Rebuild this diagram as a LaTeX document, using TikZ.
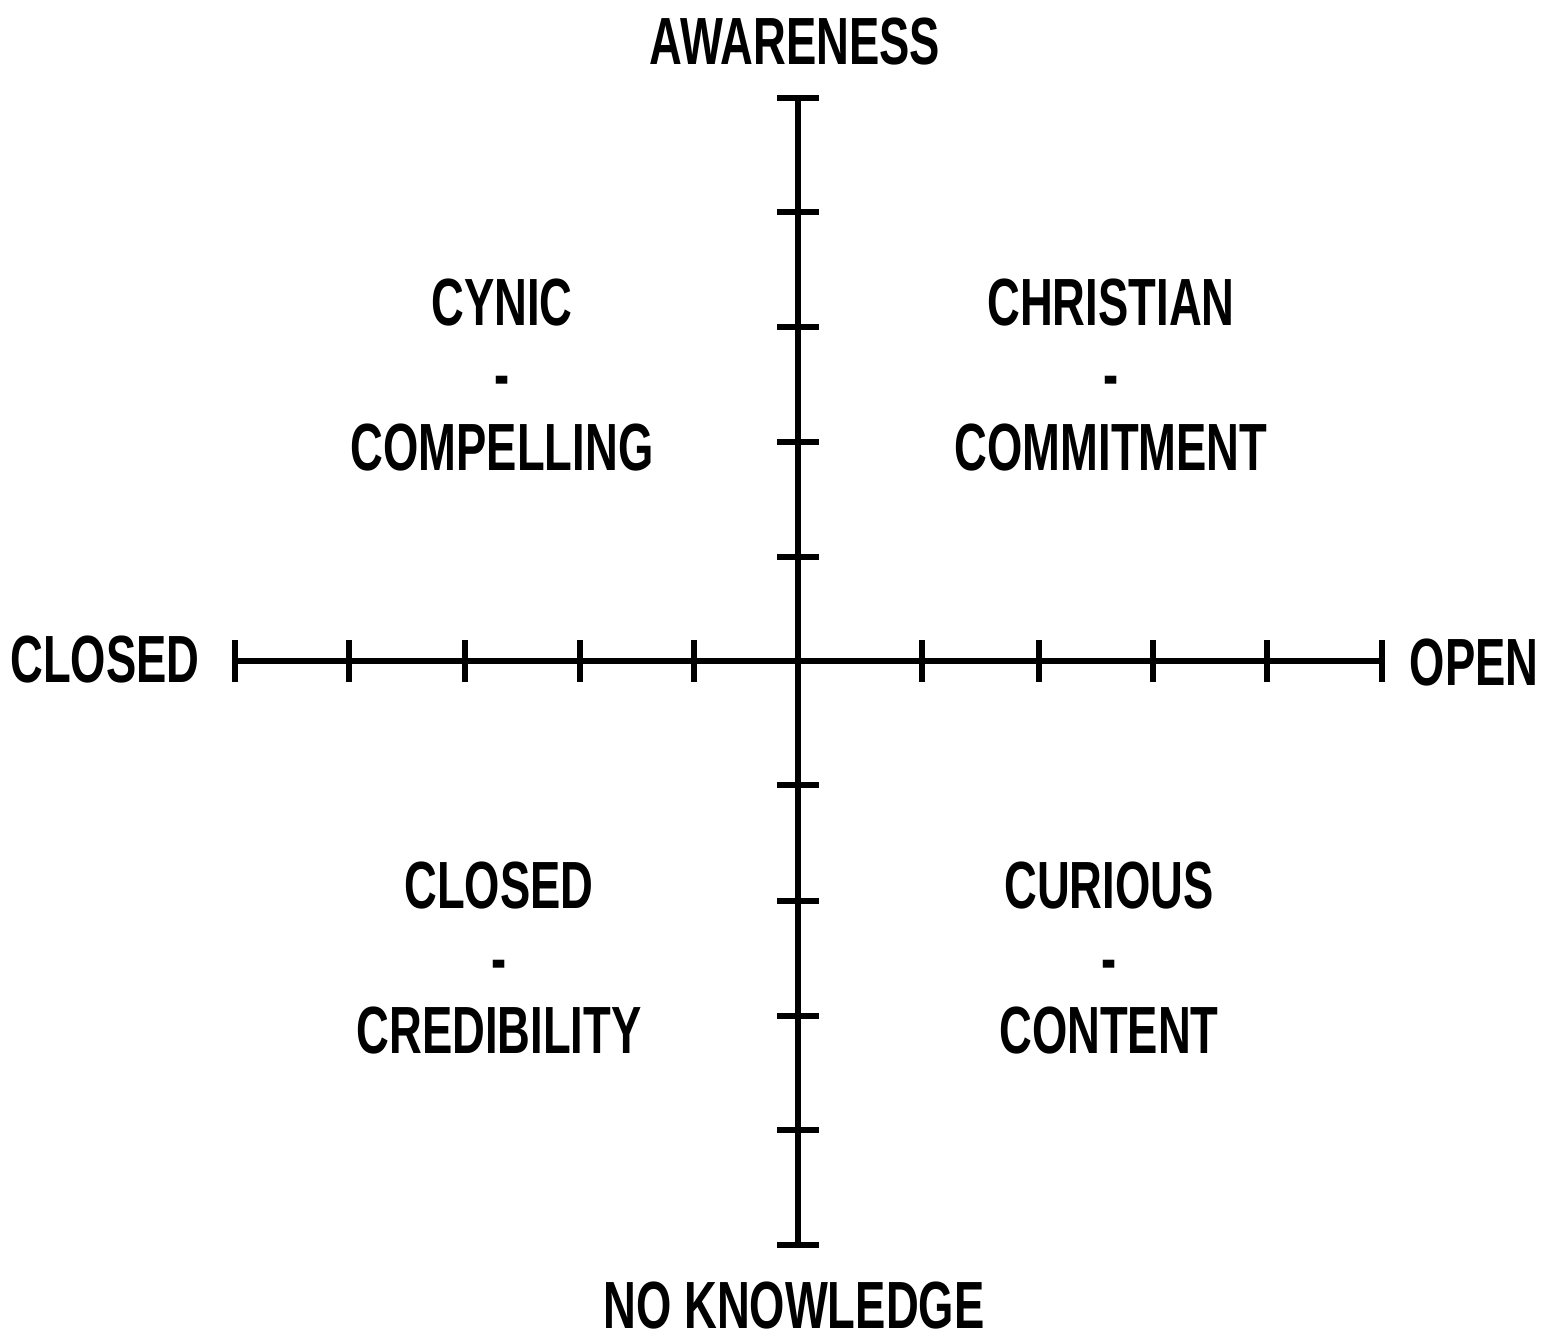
\documentclass[tikz,border=0pt]{standalone}
\usepackage{fontspec}
\newfontfamily\condfont[FakeStretch=0.68]{Liberation Sans}

\begin{document}
\begin{tikzpicture}[x=0.02cm, y=-0.02cm,
		axis/.style={line width=3.9pt},
		tick/.style={line width=3.7pt},
		word/.style={font=\condfont\bfseries\fontsize{38}{41.5}\selectfont, align=center, inner sep=0pt}]
		\def\tl{21};
		
		\useasboundingbox (0,0) rectangle (1547,1342);
		
		\coordinate (left end) at (235,661);
		\coordinate (right end) at (1382,661);
		\coordinate (top end) at (798,98);
		\coordinate (bottom end) at (798,1245);
		
		\draw [axis] (left end) -- (right end);
		\draw [axis] (top end) -- (bottom end);
		
		\foreach \x in {235,349,465,580,694,922,1039,1153,1267,1382}
			\draw [tick] (\x,661-\tl) -- (\x,661+\tl);
		\foreach \y in {98,212,327,442,557,785,901,1016,1130,1245}
			\draw [tick] (798-\tl,\y) -- (798+\tl,\y);
		
		\node [word] (awareness) at (795,42) {AWARENESS};
		\node [word] (no knowledge) at (794,1305) {NO KNOWLEDGE};
		\node [word] (closed axis) at (105,660) {CLOSED};
		\node [word] (open axis) at (1474,663) {OPEN};
		
		\node [word] (cynic) at (502,375) {CYNIC\\-\\COMPELLING};
		\node [word] (christian) at (1111,375) {CHRISTIAN\\-\\COMMITMENT};
		\node [word] (closed) at (499,958) {CLOSED\\-\\CREDIBILITY};
		\node [word] (curious) at (1109,958) {CURIOUS\\-\\CONTENT};
	\end{tikzpicture}
\end{document}
